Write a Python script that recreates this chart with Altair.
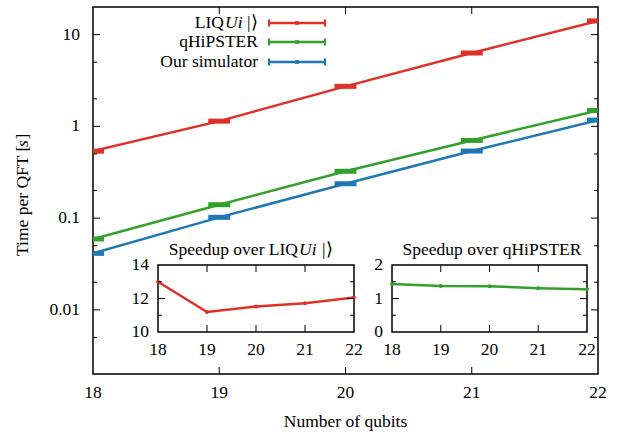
import altair as alt
import pandas as pd

# ---------------- data ----------------
qubits = [18, 19, 20, 21, 22]
series_names = ["LIQUi|⟩", "qHiPSTER", "Our simulator"]
liqui_time = [0.537, 1.14, 2.73, 6.3, 14.1]
qhipster_time = [0.0593, 0.140, 0.324, 0.703, 1.49]
ours_time = [0.0413, 0.102, 0.237, 0.538, 1.17]
speedup_liqui = [13.0, 11.19, 11.52, 11.72, 12.06]
speedup_qhipster = [1.436, 1.376, 1.366, 1.307, 1.277]
colors = ["#e0302a", "#33a02c", "#1f78b4"]

main_x_domain = [18, 22]
main_y_domain = [0.002, 20]
main_y_labels = [0.01, 0.1, 1, 10]
main_y_minor = [0.005, 0.02, 0.05, 0.2, 0.5, 2, 5]
inner_x_ticks = [19, 20, 21]
inset1_y_domain = [10, 14]
inset1_y_labels = [10, 12, 14]
inset1_y_major = [12]
inset1_y_minor = [11, 13]
inset2_y_domain = [0, 2]
inset2_y_labels = [0, 1, 2]
inset2_y_major = [1]
inset2_y_minor = [0.5, 1.5]

# ---------------- layout ----------------
W, H = 505, 367
FONT = "Liberation Serif"
FS = 17.5
I1X = [65, 261]
I2X = [299, 494]
IY = [325, 258]

df = pd.DataFrame({
    "qubits": qubits * 3,
    "time": liqui_time + qhipster_time + ours_time,
    "series": [series_names[0]] * 5 + [series_names[1]] * 5 + [series_names[2]] * 5,
})

xs = alt.Scale(domain=main_x_domain, nice=False, zero=False)
ys = alt.Scale(type="log", domain=main_y_domain, nice=False)
cs = alt.Scale(domain=series_names, range=colors)

layers = []


def one(s):
    return pd.DataFrame({"t": [s]})


def txt(s, x, y, align="left", baseline="alphabetic", style="normal", angle=0):
    return alt.Chart(one(s)).mark_text(
        align=align, baseline=baseline, font=FONT, fontSize=FS,
        fontStyle=style, color="black", angle=angle
    ).encode(x=alt.value(x), y=alt.value(y), text="t:N")


def xlabels(vals, scale, y):
    d = pd.DataFrame({"v": vals, "s": [f"{v:g}" for v in vals]})
    return alt.Chart(d).mark_text(align="center", baseline="alphabetic",
                                  font=FONT, fontSize=FS, color="black").encode(
        x=alt.X("v:Q", scale=scale, axis=None), y=alt.value(y), text="s:N")


def ylabels(vals, scale, x):
    d = pd.DataFrame({"v": vals, "s": [f"{v:g}" for v in vals]})
    return alt.Chart(d).mark_text(align="right", baseline="middle",
                                  font=FONT, fontSize=FS, color="black").encode(
        y=alt.Y("v:Q", scale=scale, axis=None), x=alt.value(x), text="s:N")


def yticks(vals, scale, x0, x1):
    return alt.Chart(pd.DataFrame({"v": vals})).mark_rule(
        color="black", strokeWidth=1).encode(
        y=alt.Y("v:Q", scale=scale, axis=None),
        x=alt.value(x0), x2=alt.value(x1))


def xticks(vals, scale, y0, y1):
    return alt.Chart(pd.DataFrame({"v": vals})).mark_rule(
        color="black", strokeWidth=1).encode(
        x=alt.X("v:Q", scale=scale, axis=None),
        y=alt.value(y0), y2=alt.value(y1))


# ---- main plot ----
layers.append(alt.Chart(df).mark_line(strokeWidth=2.5, clip=True).encode(
    x=alt.X("qubits:Q", scale=xs, axis=None),
    y=alt.Y("time:Q", scale=ys, axis=None),
    color=alt.Color("series:N", scale=cs, legend=None),
    detail="series:N",
))
layers.append(alt.Chart(df).mark_tick(orient="horizontal", size=22, thickness=5,
                                      clip=True, opacity=1).encode(
    x=alt.X("qubits:Q", scale=xs, axis=None),
    y=alt.Y("time:Q", scale=ys, axis=None),
    color=alt.Color("series:N", scale=cs, legend=None),
))
layers += [
    yticks(main_y_labels, ys, 0, 7), yticks(main_y_labels, ys, W, W - 7),
    yticks(main_y_minor, ys, 0, 4), yticks(main_y_minor, ys, W, W - 4),
    xticks(inner_x_ticks, xs, H, H - 7), xticks(inner_x_ticks, xs, 0, 7),
    xlabels(qubits, xs, H + 24),
    ylabels(main_y_labels, ys, -13),
    txt("Number of qubits", W / 2, H + 53, align="center"),
    # rotated y title: "Time per QFT [" + italic "s" + "]"
    txt("Time per QFT [", -65, 249, align="left", angle=270),
    txt("s", -65, 140, align="left", angle=270, style="italic"),
    txt("]", -65, 132.5, align="left", angle=270),
]

# ---- manual legend ----
row_line_y = [16, 35, 55]
row_text_y = [20.5, 40, 59.5]
for i, name in enumerate(series_names):
    c = colors[i]
    ly = row_line_y[i]
    layers.append(alt.Chart(one(name)).mark_rule(color=c, strokeWidth=2.5).encode(
        x=alt.value(176), x2=alt.value(232), y=alt.value(ly)))
    for xx in (176, 232):
        layers.append(alt.Chart(one(name)).mark_rule(color=c, strokeWidth=2).encode(
            x=alt.value(xx), y=alt.value(ly - 3.5), y2=alt.value(ly + 3.5)))
    layers.append(alt.Chart(one(name)).mark_point(
        shape="square", filled=True, size=14, color=c, opacity=1).encode(
        x=alt.value(204), y=alt.value(ly)))
    if i == 0:
        layers.append(txt("LIQ", 131, row_text_y[i], align="right"))
        layers.append(txt("Ui", 132, row_text_y[i], style="italic"))
        layers.append(txt("|⟩", 154, row_text_y[i]))
    else:
        layers.append(txt(name, 165, row_text_y[i], align="right"))


# ---- insets ----
def inset(values, color, xr, ydom, ylabs, ymaj, ymin):
    sx = alt.Scale(domain=main_x_domain, range=xr, nice=False, zero=False)
    sy = alt.Scale(domain=ydom, range=IY, nice=False, zero=False)
    out = []
    out.append(alt.Chart(pd.DataFrame({"x0": [main_x_domain[0]], "x1": [main_x_domain[1]],
                                       "y0": [ydom[0]], "y1": [ydom[1]]})).mark_rect(
        fillOpacity=0, stroke="black", strokeWidth=1.5).encode(
        x=alt.X("x0:Q", scale=sx, axis=None), x2="x1:Q",
        y=alt.Y("y0:Q", scale=sy, axis=None), y2="y1:Q"))
    d = pd.DataFrame({"qubits": qubits, "v": values})
    out.append(alt.Chart(d).mark_line(color=color, strokeWidth=2.5).encode(
        x=alt.X("qubits:Q", scale=sx, axis=None),
        y=alt.Y("v:Q", scale=sy, axis=None)))
    out.append(alt.Chart(d).mark_point(filled=True, size=16, color=color, opacity=1).encode(
        x=alt.X("qubits:Q", scale=sx, axis=None),
        y=alt.Y("v:Q", scale=sy, axis=None)))
    x0, x1 = xr
    yb, yt = IY
    out += [yticks(ymaj, sy, x0, x0 + 7), yticks(ymaj, sy, x1, x1 - 7),
            yticks(ymin, sy, x0, x0 + 4), yticks(ymin, sy, x1, x1 - 4),
            xticks(inner_x_ticks, sx, yb, yb - 7), xticks(inner_x_ticks, sx, yt, yt + 7),
            xlabels(qubits, sx, yb + 23),
            ylabels(ylabs, sy, x0 - 9)]
    return out


title_y = 248
layers += inset(speedup_liqui, colors[0], I1X, inset1_y_domain, inset1_y_labels,
                inset1_y_major, inset1_y_minor)
layers += [txt("Speedup over LIQ", 205, title_y, align="right"),
           txt("Ui", 206, title_y, style="italic"),
           txt("|⟩", 229, title_y)]
layers += inset(speedup_qhipster, colors[1], I2X, inset2_y_domain, inset2_y_labels,
                inset2_y_major, inset2_y_minor)
layers += [txt("Speedup over qHiPSTER", 399, title_y, align="center")]

chart = alt.layer(*layers).resolve_scale(
    x="independent", y="independent"
).properties(
    width=W, height=H,
    autosize=alt.AutoSizeParams(type="none"),
    padding={"left": 93, "top": 7, "right": 26, "bottom": 58},
    background="white",
).configure_view(stroke="black", strokeWidth=1.5)

chart.save("out.html", embed_options={"renderer": "svg", "actions": False})
